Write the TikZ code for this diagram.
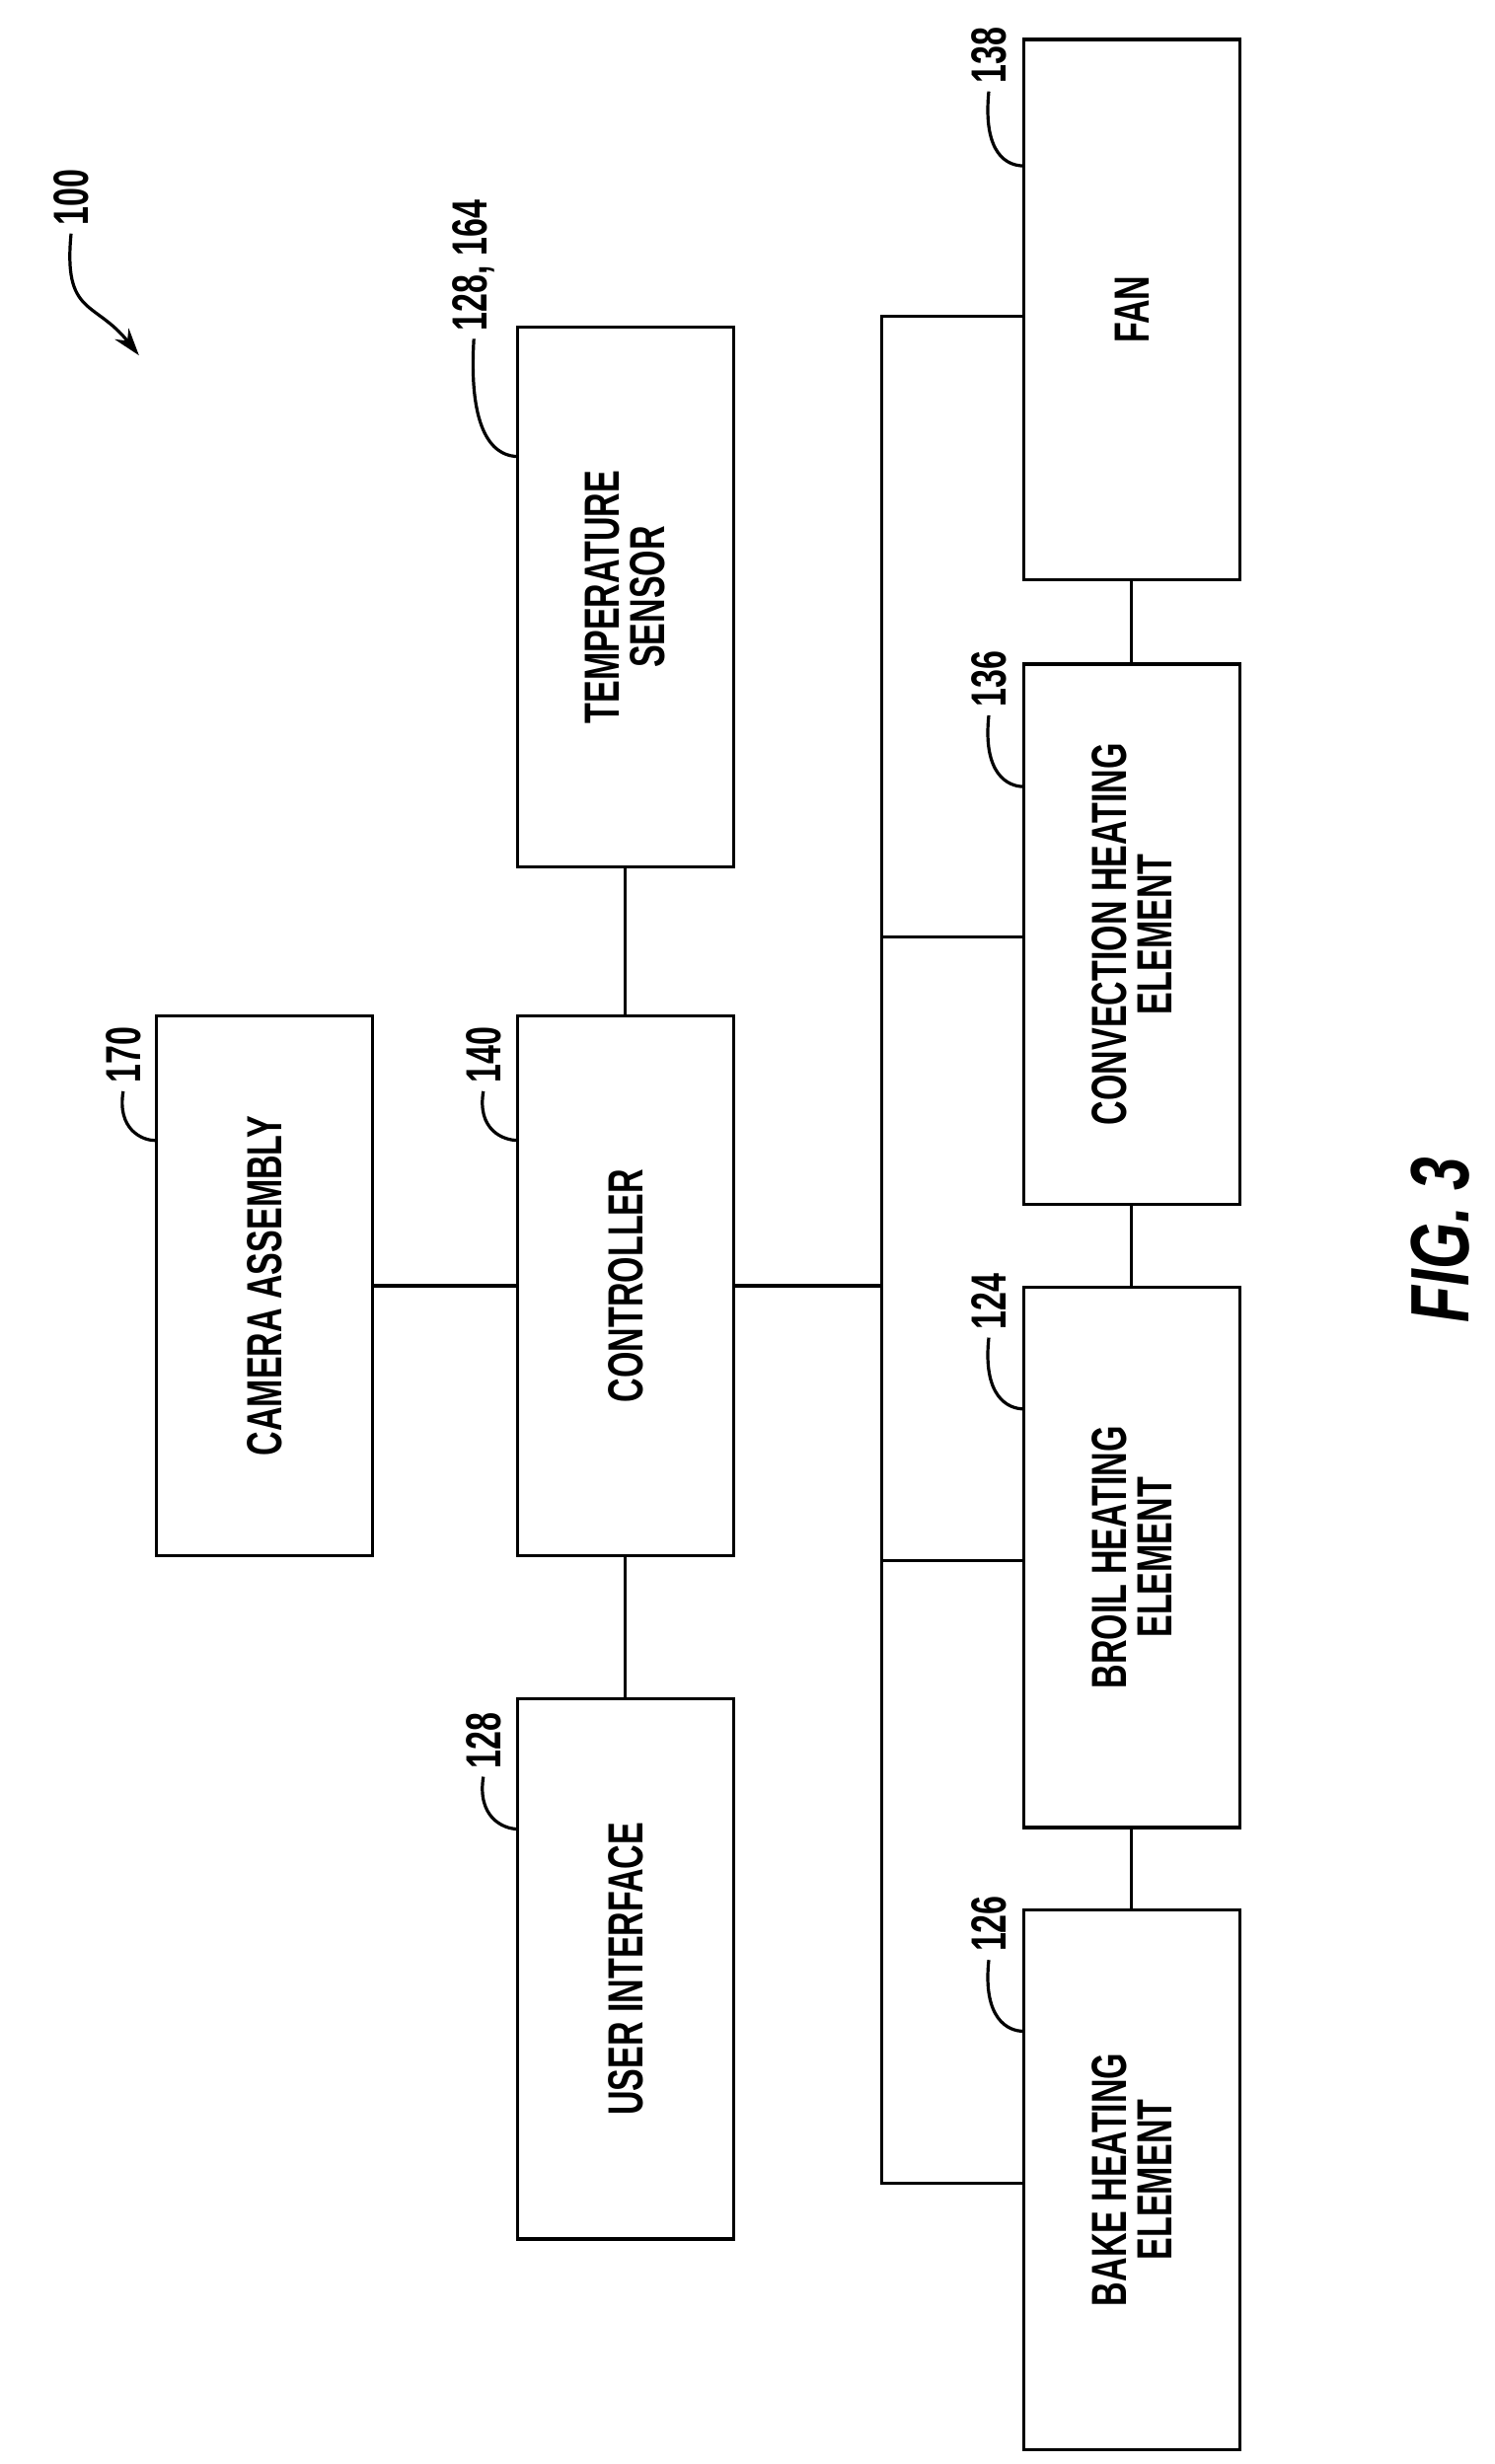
\documentclass[tikz,border=0pt]{standalone}
\usepackage{fontspec}
\setmainfont{Liberation Sans}
\usepackage{graphicx}
\usetikzlibrary{arrows.meta}
\newcommand{\cnd}[1]{\scalebox{0.68}[1]{\bfseries #1}}
\tikzset{every picture/.style={line width=1.6pt}}
\tikzset{
	blk/.style={draw, minimum width=109.6pt, minimum height=273.6pt, inner sep=0pt},
	txt/.style={rotate=90, font=\fontsize{25}{27}\selectfont, align=center},
	num/.style={rotate=90, font=\fontsize{25}{27}\selectfont}}

\begin{document}
\begin{tikzpicture}[x=0.8pt,y=0.8pt,yscale=-1,xscale=1]
	\useasboundingbox (0,0) rectangle (946,1560);

	% Blocks
	\node[blk] (cam) at (167.5,814) {};
	\node[blk] (ctl) at (396,814) {};
	\node[blk] (tmp) at (396,378) {};
	\node[blk] (ui) at (396,1246.5) {};
	\node[blk] (fan) at (716.5,196) {};
	\node[blk] (cnv) at (716.5,591.5) {};
	\node[blk] (brl) at (716.5,986) {};
	\node[blk] (bak) at (716.5,1380) {};

	% Block texts
	\node[txt] at (cam) {\cnd{CAMERA ASSEMBLY}};
	\node[txt] at (ctl) {\cnd{CONTROLLER}};
	\node[txt] at (tmp) {\cnd{TEMPERATURE}\\[-4pt]\cnd{SENSOR}};
	\node[txt] at (ui) {\cnd{USER INTERFACE}};
	\node[txt] at (fan) {\cnd{FAN}};
	\node[txt] at (cnv) {\cnd{CONVECTION HEATING}\\[-4pt]\cnd{ELEMENT}};
	\node[txt] at (brl) {\cnd{BROIL HEATING}\\[-4pt]\cnd{ELEMENT}};
	\node[txt] at (bak) {\cnd{BAKE HEATING}\\[-4pt]\cnd{ELEMENT}};

	% Connectors
	\draw (cam.east) -- (ctl.west);
	\draw (ctl.north) -- (tmp.south);
	\draw (ctl.south) -- (ui.north);
	\coordinate (bus) at (558,814);
	\draw (ctl.east) -- (bus);
	\draw (fan.west |- 0,200) -| (558,1382) -- (bak.west |- 0,1382);
	\draw (558,593) -- (cnv.west |- 0,593);
	\draw (558,988) -- (brl.west |- 0,988);
	\draw (fan.south) -- (cnv.north);
	\draw (cnv.south) -- (brl.north);
	\draw (brl.south) -- (bak.north);

	% Reference numerals
	\node[num] (n170) at (78,668) {\cnd{170}};
	\draw (n170.west) .. controls (74,715) and (90,722) .. (98,722);
	\node[num] (n140) at (306,668) {\cnd{140}};
	\draw (n140.west) .. controls (302,715) and (318,722) .. (328,722);
	\node[num] (n164) at (300,168) {\cnd{128, 164}};
	\draw (n164.west) .. controls (296,280) and (316,289) .. (328,289);
	\node[num] (n128) at (306,1102) {\cnd{128}};
	\draw (n128.west) .. controls (302,1150) and (318,1158) .. (328,1158);
	\node[num] (n138) at (626,35) {\cnd{138}};
	\draw (n138.west) .. controls (622,98) and (638,105) .. (648,105);
	\node[num] (n136) at (626,430) {\cnd{136}};
	\draw (n136.west) .. controls (622,490) and (638,498) .. (648,498);
	\node[num] (n124) at (626,824) {\cnd{124}};
	\draw (n124.west) .. controls (622,884) and (638,892) .. (648,892);
	\node[num] (n126) at (626,1218) {\cnd{126}};
	\draw (n126.west) .. controls (622,1278) and (638,1286) .. (648,1286);
	\node[num] (n100) at (45,125) {\cnd{100}};
	\draw[-{Stealth[length=14pt,width=9pt]}] (n100.west) .. controls (40,200) and (60,190) .. (88,225);

	% Figure label
	\node[rotate=90, font=\fontsize{42}{44}\selectfont] at (912,785) {\scalebox{0.72}[1]{\bfseries\itshape FIG. 3}};
\end{tikzpicture}
\end{document}
